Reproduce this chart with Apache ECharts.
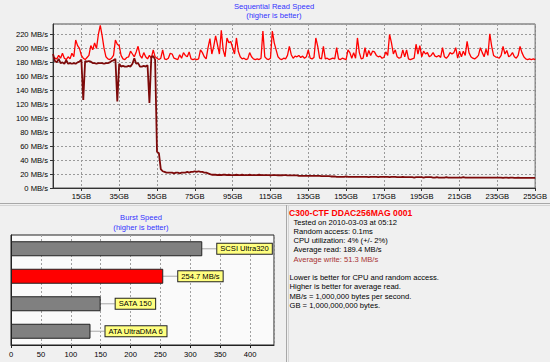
<!DOCTYPE html>
<html><head><meta charset="utf-8">
<script src="https://cdn.jsdelivr.net/npm/echarts@6/dist/echarts.min.js"></script>
<style>html,body{margin:0;padding:0;background:#f0f0f0}#c{width:550px;height:362px}</style>
</head><body><div id="c"></div>
<script>
// ---- data ----
const gbTicks = [15, 35, 55, 75, 95, 115, 135, 155, 175, 195, 215, 235, 255];
const readSpeed = [
188,186,185,190,186,193,186,184,188,185,193,188,212,204,200,190,186,184,187,190,
204,198,208,200,220,233,218,200,188,185,184,186,190,212,206,204,190,185,184,187,
188,196,192,188,195,203,190,186,194,188,185,190,186,198,188,186,184,186,198,185,
184,186,193,192,186,185,184,191,186,194,190,188,195,185,184,185,184,185,198,194,
188,185,201,214,192,203,218,205,192,226,198,188,215,208,210,201,192,215,196,188,
185,186,184,185,194,188,185,184,185,184,186,225,188,185,184,186,225,208,198,188,
185,184,186,185,190,203,191,186,189,188,190,187,189,186,188,198,186,185,187,215,
203,186,185,203,185,186,184,185,186,185,201,185,184,186,185,184,198,194,186,194,
186,215,194,185,186,201,188,197,190,196,195,190,188,189,186,187,195,190,220,208,
192,198,188,186,187,198,188,198,185,184,185,186,206,192,204,188,196,192,194,188,
190,194,189,188,190,187,201,188,186,189,194,192,194,201,186,196,188,196,190,210,
194,188,186,185,187,190,201,194,188,199,190,221,203,190,188,187,186,190,203,192,
197,188,190,194,188,186,190,203,194,188,185,184,185,184,185,184
];
const writeSpeed = [
192,182,180,185,179,180,178,183,178,179,178,179,178,180,181,184,126,182,181,182,
181,179,179,178,179,179,179,178,179,179,180,182,183,185,124,178,174,175,174,174,
175,174,178,186,178,179,174,174,175,174,176,122,188,189,184,52,50,27,24,23,
22,22,22,22,21,22,22,21,22,22,22,23,22,23,23,24,23,24,23,23,
22,22,21,20,19,19,19,18.5,19,18.5,19,19,18.5,19,18.5,18.5,18.5,19,18.5,18.5,
19,18.5,18.5,18.5,19,18.5,18.5,18.5,18.5,19,18.5,18.5,18.5,18.5,18.5,18,18.5,18.5,18.5,18,
18.5,18,18.5,18.5,18,18,18,18,18,18,17.5,17.5,17.5,17.5,17.5,17.5,17.5,17.5,17.5,17.5,
17.5,17.5,17,17,17,17,17,16.5,16.5,16.5,16,16,16,16,16,16.5,16,16,16,16,
16,16,16,16,16,16,16,15.5,16,16,16,16,15.5,16,16,16,16,16,15.5,16,
16,16,15.5,15.5,15.5,16,15.5,15.5,15.5,15.5,15.5,15,15.5,15.5,15.5,15.5,15,15.5,15.5,15.5,
15.5,15,15,15.5,15,15,15,15,15.5,15,15,15,15,15,15,15,15,15.5,15,15,
15,15,15,15,15,15,15,15,15,15,15,15,15,15,15,15,15,15,14.5,15,
15,14.5,15,15,14.5,14.5,15,14.5,14.5,14.5,14.5,14.5,14.5,14.5,14.5,14.5
];
const burstNames = ['SCSI Ultra320', 'C300-CTF DDAC256MAG 0001', 'SATA 150', 'ATA UltraDMA 6'];
const burstValues = [320, 254.7, 150, 133];
const burstLabels = ['SCSI Ultra320', '254.7 MB/s', 'SATA 150', 'ATA UltraDMA 6'];
const infoTitle = 'C300-CTF DDAC256MAG 0001';
const infoLines = ['Tested on 2010-03-03 at 05:12', 'Random access: 0.1ms', 'CPU utilization: 4% (+/- 2%)', 'Average read: 189.4 MB/s'];
const infoWrite = 'Average write: 51.3 MB/s';
const noteLines = ['Lower is better for CPU and random access.', 'Higher is better for average read.', 'MB/s = 1,000,000 bytes per second.', 'GB = 1,000,000,000 bytes.'];

// ---- chart ----
const FONT = 'Liberation Sans';
const FS = 7.6;
const readPts = readSpeed.map((v, i) => [i, v]);
const writePts = writeSpeed.map((v, i) => [i, v]);

function txt(text, x, y, opts) {
  return {
    type: 'text', x: x, y: y, silent: true,
    style: Object.assign({ text: text, fill: '#000', font: FS + 'px "' + FONT + '"', verticalAlign: 'middle', align: 'left' }, opts || {})
  };
}

const graphics = [
  { type: 'line', shape: { x1: 0, y1: 203.5, x2: 550, y2: 203.5 }, style: { stroke: '#a8a8a8', lineWidth: 1 }, silent: true },
  { type: 'line', shape: { x1: 0, y1: 205.5, x2: 550, y2: 205.5 }, style: { stroke: '#d4d4d4', lineWidth: 1 }, silent: true },
  { type: 'line', shape: { x1: 286.5, y1: 205, x2: 286.5, y2: 362 }, style: { stroke: '#a8a8a8', lineWidth: 1 }, silent: true },
  { type: 'line', shape: { x1: 288.5, y1: 205, x2: 288.5, y2: 362 }, style: { stroke: '#d4d4d4', lineWidth: 1 }, silent: true },
  txt('Sequential Read Speed', 274, 6, { fill: '#3333ff', align: 'center' }),
  txt('(higher is better)', 274, 15.7, { fill: '#3333ff', align: 'center' }),
  txt('Burst Speed', 141, 217, { fill: '#3333ff', align: 'center' }),
  txt('(higher is better)', 141, 227, { fill: '#3333ff', align: 'center' }),
  txt(infoTitle, 289, 212.5, { fill: '#ff0000', font: 'bold 8.6px "' + FONT + '"' })
];
infoLines.forEach((t, i) => graphics.push(txt(t, 293.5, 222 + i * 9.3)));
graphics.push(txt(infoWrite, 293.5, 222 + 4 * 9.3, { fill: '#a83232' }));
noteLines.forEach((t, i) => graphics.push(txt(t, 289.5, 277.7 + i * 9.25)));

const chart = echarts.init(document.getElementById('c'), null, { renderer: 'svg' });
chart.setOption({
  backgroundColor: '#f0f0f0',
  animation: false,
  textStyle: { fontFamily: FONT },
  grid: [
    { left: 53, right: 14, top: 24, bottom: 174, show: true, backgroundColor: '#f2f2f2', borderColor: '#555', borderWidth: 1 },
    { left: 11, right: 276, top: 235, bottom: 17, show: true, backgroundColor: '#fafafa', borderColor: '#222', borderWidth: 1 }
  ],
  xAxis: [
    {
      type: 'value', gridIndex: 0, min: 0, max: 255,
      axisLine: { show: true, lineStyle: { color: '#333' } },
      axisTick: { show: true, customValues: gbTicks, length: 3, lineStyle: { color: '#333' } },
      axisLabel: { customValues: gbTicks, formatter: '{value}GB', fontSize: FS, color: '#000', margin: 4, fontFamily: FONT },
      splitLine: { show: true, lineStyle: { color: '#9a9a9a', type: [2, 2] } }
    },
    {
      type: 'value', gridIndex: 1, min: 0, max: 440, interval: 50,
      axisLine: { show: true, lineStyle: { color: '#222' } },
      axisTick: { show: true, length: 3, lineStyle: { color: '#222' } },
      axisLabel: { fontSize: FS, color: '#000', margin: 5, showMaxLabel: false, fontFamily: FONT },
      splitLine: { show: true, lineStyle: { color: '#a0a0a0', type: [2, 2] } }
    }
  ],
  yAxis: [
    {
      type: 'value', gridIndex: 0, min: 0, max: 235, interval: 20,
      axisLine: { show: true, lineStyle: { color: '#333' } },
      axisTick: { show: true, length: 3, lineStyle: { color: '#333' } },
      axisLabel: { formatter: '{value} MB/s', fontSize: FS, color: '#000', margin: 5, showMaxLabel: false, fontFamily: FONT },
      splitLine: { show: true, lineStyle: { color: '#9a9a9a', type: [2, 2] } }
    },
    {
      type: 'category', gridIndex: 1, data: burstNames, inverse: true,
      axisLine: { show: true, lineStyle: { color: '#222' } },
      axisTick: { show: false }, axisLabel: { show: false }, splitLine: { show: false }
    }
  ],
  series: [
    {
      type: 'line', xAxisIndex: 0, yAxisIndex: 0, data: readPts, showSymbol: false, symbol: 'none',
      lineStyle: { color: '#ff0000', width: 1.3 }, z: 3
    },
    {
      type: 'line', xAxisIndex: 0, yAxisIndex: 0, data: writePts, showSymbol: false, symbol: 'none',
      lineStyle: { color: '#7d0a0a', width: 1.8 }, z: 4
    },
    {
      type: 'bar', xAxisIndex: 1, yAxisIndex: 1, data: burstValues, barWidth: 15,
      itemStyle: { color: p => (p.dataIndex === 1 ? '#ff0000' : '#808080'), borderColor: '#222', borderWidth: 1 },
      label: {
        show: true, position: 'right', distance: 0,
        formatter: p => burstLabels[p.dataIndex],
        backgroundColor: '#ffff80', borderColor: '#222', borderWidth: 1, padding: [1, 3, 1, 3],
        fontSize: FS, color: '#000', fontFamily: FONT
      },
      labelLayout: { dx: 15 },
      labelLine: { show: true, lineStyle: { color: '#b4b4b4', width: 1.2 } }
    }
  ],
  graphic: graphics
});
</script>
</body></html>
